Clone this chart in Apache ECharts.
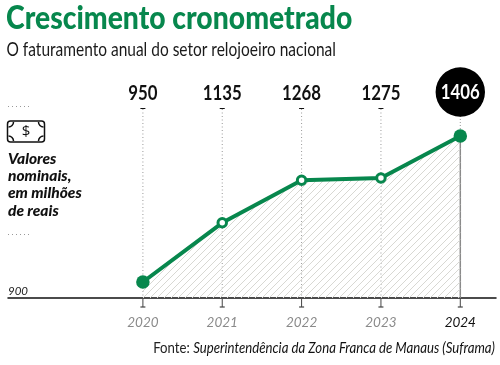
<!DOCTYPE html>
<html><head><meta charset="utf-8">
<style>html,body{margin:0;padding:0;background:#fff}#c{width:500px;height:365px}</style>
<script src="https://cdn.jsdelivr.net/npm/echarts@6/dist/echarts.min.js"></script></head>
<body><div id="c"></div>
<script>
const years = [2020, 2021, 2022, 2023, 2024];
const revenue = [950, 1135, 1268, 1275, 1406];
const dottedLevels = [1100, 1500];
const titleText = 'Crescimento cronometrado';
const subtitleText = 'O faturamento anual do setor relojoeiro nacional';
const unitLines = ['Valores', 'nominais,', 'em milhões', 'de reais'];
const sourceLabel = 'Fonte: ';
const sourceName = 'Superintendência da Zona Franca de Manaus (Suframa)';

const GREEN = '#07874d', FONT = 'Lato,"Liberation Sans",sans-serif';
const hatch = document.createElement('canvas');
hatch.width = hatch.height = 7;
const hc = hatch.getContext('2d');
hc.strokeStyle = '#d8d8d3'; hc.lineWidth = 1;
[[-7,7,7,-7],[0,7,7,0],[0,14,14,0]].forEach(s => {hc.beginPath();hc.moveTo(s[0],s[1]);hc.lineTo(s[2],s[3]);hc.stroke();});

const chart = echarts.init(document.getElementById('c'), null, {renderer:'canvas'});
const last = years[years.length-1];
const LABEL_SX = 0.8;
chart.setOption({
  animation:false,
  grid:{left:8,right:4,top:74,bottom:67},
  xAxis:{type:'value',min:2018.3,max:2024.45,
    splitLine:{show:false},
    axisLine:{show:true,onZero:false,lineStyle:{color:'#111',width:1.5}},
    axisTick:{show:false},
    axisLabel:{customValues:years,margin:18,fontFamily:FONT,fontStyle:'italic',fontSize:13.5,
      formatter:v=>v===last?`{a|${v}}`:`{b|${v}}`,
      rich:{a:{color:'#111',fontFamily:FONT,fontStyle:'italic',fontSize:13.5},b:{color:'#8a8a8a',fontFamily:FONT,fontStyle:'italic',fontSize:13.5}}}
  },
  yAxis:{type:'value',min:900,max:1600,
    splitLine:{show:false},axisLine:{show:false},axisTick:{show:false},
    axisLabel:{inside:true,customValues:[900],margin:0,verticalAlign:'bottom',padding:[0,0,1,0],
      fontFamily:FONT,fontStyle:'italic',fontSize:11.5,color:'#222'}
  },
  series:[
    {type:'custom',z:1,silent:true,clip:false,
     data:years.map((y,i)=>[y,revenue[i]]),
     renderItem(p,api){
       const yr=api.value(0),val=api.value(1);
       const base=api.coord([yr,900]),top=api.coord([yr,1500]),pt=api.coord([yr,val]);
       const x=base[0],isLast=yr===last;
       const kids=[
         {type:'line',shape:{x1:x,y1:base[1]+1,x2:x,y2:base[1]+9},style:{stroke:'#444',lineWidth:1}},
         {type:'line',shape:{x1:x-2.5,y1:base[1]+9,x2:x+2.5,y2:base[1]+9},style:{stroke:'#444',lineWidth:1.2}}
       ];
       if(isLast){
         kids.push({type:'line',shape:{x1:x,y1:pt[1],x2:x,y2:base[1]},style:{stroke:'#8a8a8a',lineWidth:1.5}});
         kids.push({type:'line',shape:{x1:x,y1:top[1]-2,x2:x,y2:pt[1]},style:{stroke:'#999',lineWidth:1,lineDash:[1,2]}});
         kids.push({type:'circle',shape:{cx:x,cy:top[1]-14,r:24.7},style:{fill:'#000'}});
         kids.push({type:'text',x:x,y:top[1]-14,scaleX:LABEL_SX,style:{x:0,y:0,text:String(val),fill:'#fff',font:'bold 21px '+FONT,align:'center',verticalAlign:'middle'}});
       }else{
         kids.push({type:'line',shape:{x1:x,y1:top[1]+3,x2:x,y2:base[1]},style:{stroke:'#999',lineWidth:1,lineDash:[1,2.5]}});
         kids.push({type:'line',shape:{x1:x-2.5,y1:top[1]+2.5,x2:x+2.5,y2:top[1]+2.5},style:{stroke:'#111',lineWidth:1}});
         kids.push({type:'text',x:x,y:top[1]-12.5,scaleX:LABEL_SX,style:{x:0,y:0,text:String(val),fill:'#111',font:'bold 21px '+FONT,align:'center',verticalAlign:'middle'}});
       }
       return {type:'group',children:kids};
     },
     encode:{x:0,y:1}
    },
    {type:'line',z:3,clip:false,
     data:years.map((y,i)=>{
       const solid=i===0||i===years.length-1;
       return {value:[y,revenue[i]],symbolSize:solid?13.5:8.5,
         itemStyle:{color:solid?GREEN:'#fff',borderColor:GREEN,borderWidth:solid?0:3}};
     }),
     symbol:'circle',showSymbol:true,
     lineStyle:{color:GREEN,width:4,cap:'round'},
     areaStyle:{color:{image:hatch,repeat:'repeat'},opacity:1,origin:'start'},
     markLine:{silent:true,symbol:'none',label:{show:false},
       lineStyle:{color:'#999',type:[1,3],width:1},
       data:dottedLevels.map(v=>[{x:8,yAxis:v},{x:31,yAxis:v}])}
    }
  ],
  graphic:[
    {type:'text',x:6,y:3,scaleX:0.885,style:{text:titleText,fill:GREEN,font:'900 32px '+FONT}},
    {type:'text',x:6.5,y:40,scaleX:0.815,style:{text:subtitleText,fill:'#1a1a1a',font:'19px '+FONT}},
    {type:'group',x:7.5,y:121,children:[
      {type:'rect',shape:{x:0,y:0,width:37,height:21,r:3},style:{fill:'#fff',stroke:'#111',lineWidth:1.5}},
      {type:'text',style:{x:18.5,y:11,text:'$',fill:'#111',font:'15px "Open Sans",sans-serif',align:'center',verticalAlign:'middle'}},
      {type:'arc',shape:{cx:1,cy:1,r:5,startAngle:0,endAngle:Math.PI/2},style:{fill:null,stroke:'#111',lineWidth:1.5}},
      {type:'arc',shape:{cx:36,cy:1,r:5,startAngle:Math.PI/2,endAngle:Math.PI},style:{fill:null,stroke:'#111',lineWidth:1.5}},
      {type:'arc',shape:{cx:1,cy:20,r:5,startAngle:-Math.PI/2,endAngle:0},style:{fill:null,stroke:'#111',lineWidth:1.5}},
      {type:'arc',shape:{cx:36,cy:20,r:5,startAngle:Math.PI,endAngle:Math.PI*1.5},style:{fill:null,stroke:'#111',lineWidth:1.5}}
    ]},
    {type:'text',x:8,y:150,style:{text:unitLines.join('\n'),fill:'#111',font:'italic 900 15.5px '+FONT,lineHeight:17.3}},
    {type:'text',x:495,y:341,scaleX:0.91,style:{align:'right',
      text:`{a|${sourceLabel}}{b|${sourceName}}`,
      rich:{a:{fontFamily:FONT,fontSize:14.5,fill:'#222'},b:{fontFamily:FONT,fontStyle:'italic',fontSize:14.5,fill:'#111'}}}}
  ]
});
</script></body></html>
